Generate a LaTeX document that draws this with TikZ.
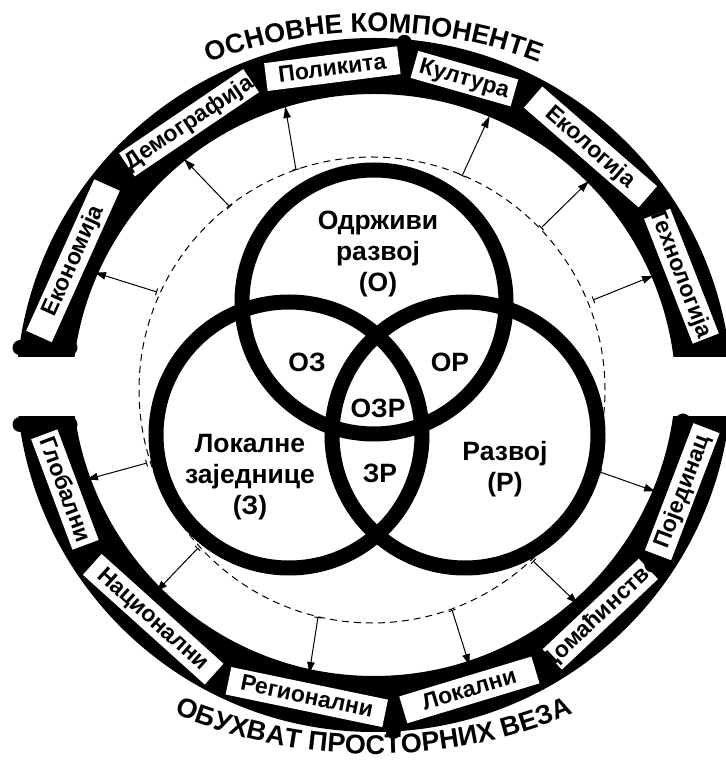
\documentclass[tikz,border=0pt]{standalone}
\usepackage{fontspec}
\setmainfont{Liberation Sans}
\usetikzlibrary{calc,arrows.meta,decorations.text}
\newcommand\boxfont{\fontsize{23pt}{24pt}\selectfont\bfseries}
\newcommand\vennfont{\fontsize{26.5pt}{31pt}\selectfont\bfseries}
\newcommand\ttlfont{\fontsize{27pt}{27pt}\selectfont\bfseries}
\begin{document}
\begin{tikzpicture}[x=1pt,y=1pt,
  wbox/.style={rectangle, fill=white, inner sep=0pt, minimum height=28pt},
  lbl/.style={inner sep=0pt, font=\boxfont, text height=13.5pt, text depth=0pt},
  venn/.style={circle, draw=black, line width=15pt, inner sep=0pt},
  vlbl/.style={font=\vennfont, align=center, inner sep=0pt},
  arr/.style={line width=1pt, {Bar[width=7pt]}-{Latex[length=13pt,width=8pt]}},
  dsh/.style={line width=1pt, dash pattern=on 7pt off 5pt},
]
\useasboundingbox (0,0) rectangle (726,769);
\fill[white] (0,0) rectangle (726,769);
\coordinate (C1) at (374,373);
\coordinate (C2) at (374,395);
\coordinate (T1) at (374,272);
\coordinate (T2) at (374,530);
\coordinate (D) at (372,379);

% dashed circle
\draw[dsh] (D) circle (233pt);

% arrows
\coordinate (a1s) at (157,477); \coordinate (a1e) at (93,497);
\coordinate (a2s) at (230,562); \coordinate (a2e) at (183,611);
\coordinate (a3s) at (296,599); \coordinate (a3e) at (285,664);
\coordinate (a4s) at (462,593); \coordinate (a4e) at (490,654);
\coordinate (a5s) at (541,541); \coordinate (a5e) at (590,589);
\coordinate (a6s) at (593,469); \coordinate (a6e) at (655,494);
\coordinate (a7s) at (147,306); \coordinate (a7e) at (85,289);
\coordinate (a8s) at (198,221); \coordinate (a8e) at (155,176);
\coordinate (a9s) at (318,152); \coordinate (a9e) at (309,94);
\coordinate (a10s) at (452,159); \coordinate (a10e) at (470,102);
\coordinate (a11s) at (533,208); \coordinate (a11e) at (579,164);
\coordinate (a12s) at (600,297); \coordinate (a12e) at (657,277);
\foreach \i in {1,...,12} {\draw[arr] (a\i s) -- (a\i e);}

% upper band
\begin{scope}
  \clip (0,412) rectangle (740,769);
  \fill[even odd rule] (C1) circle (358pt) (C1) circle (302pt);
\end{scope}
\draw[line width=15pt, line cap=round] (20,421) -- (70,421);
\draw[line width=12pt, line cap=round] (681,418) -- (745,418);
\fill ($(C1)+(85.1:355pt)$) circle (7.5pt);

% lower band
\begin{scope}
  \clip (0,0) rectangle (740,352);
  \fill[even odd rule] (C2) circle (358pt) (C2) circle (302pt);
\end{scope}
\draw[line width=15pt, line cap=round] (20,344.5) -- (70,344.5);
\fill (683,348) circle (7.5pt);
\draw[line width=6pt] (683,347) -- (745,347);
\fill ($(C2)+(273.1:358pt)$) circle (7.5pt);

% upper boxes
\node[wbox, minimum width=166pt, rotate=65.8] (bEk) at ($(C1)+(155.8:330pt)$) {};
\node[lbl, rotate=65.8] (tEk) at (bEk) {Економија};
\node[wbox, minimum width=150pt, rotate=34.1] (bDe) at ($(C1)+(124.1:330pt)$) {};
\node[lbl, rotate=34.1] (tDe) at (bDe) {Демографија};
\node[wbox, minimum width=134pt, rotate=7.25] (bPo) at ($(C1)+(97.25:330pt)$) {};
\node[lbl, rotate=7.25] (tPo) at (bPo) {Поликита};
\node[wbox, minimum width=104pt, rotate=-15.9] (bKu) at ($(C1)+(74.1:330pt)$) {};
\node[lbl, rotate=-15.9] (tKu) at (bKu) {Култура};
\node[wbox, minimum width=152pt, rotate=-41] (bEl) at ($(C1)+(49:330pt)$) {};
\node[lbl, rotate=-41] (tEl) at (bEl) {Екологија};
\node[wbox, minimum width=134pt, rotate=-68.7] (bTe) at ($(C1)+(21.3:330pt)$) {};
\node[lbl, rotate=-68.7] (tTe) at ($(bTe)+(-0.5,3)$) {Технологија};

% lower boxes
\node[wbox, minimum width=118pt, rotate=-69.5] (bGl) at ($(C2)+(200.5:330pt)$) {};
\node[lbl, rotate=-69.5] (tGl) at (bGl) {Глобални};
\node[wbox, minimum width=164pt, rotate=-42] (bNa) at ($(C2)+(228:330pt)$) {};
\node[lbl, rotate=-42] (tNa) at (bNa) {Национални};
\node[wbox, minimum width=160pt, rotate=-11.75] (bRe) at ($(C2)+(258.25:330pt)$) {};
\node[lbl, rotate=-11.75] (tRe) at (bRe) {Регионални};
\node[wbox, minimum width=138pt, rotate=16.8] (bLo) at ($(C2)+(286.8:330pt)$) {};
\node[lbl, rotate=16.8] (tLo) at (bLo) {Локални};
\node[wbox, minimum width=132pt, rotate=43.3] (bDo) at ($(C2)+(313.3:330pt)$) {};
\node[lbl, rotate=43.3] (tDo) at (bDo) {Домаћинство};
\node[wbox, minimum width=136pt, rotate=69.1] (bPj) at ($(C2)+(339.1:330pt)$) {};
\node[lbl, rotate=69.1] (tPj) at (bPj) {Појединац};

% Venn circles
\node[venn, minimum size=264pt] (O) at (374,467) {};
\node[venn, minimum size=266pt] (Z) at (289,334) {};
\node[venn, minimum size=266pt] (P) at (465,334) {};

% Venn labels
\node[vlbl] (lO) at (378,515) {Одрживи\\развој\\(О)};
\node[vlbl] (lOZ) at (307,407) {ОЗ};
\node[vlbl] (lOP) at (450,407) {ОР};
\node[vlbl] (lOZP) at (378,361) {ОЗР};
\node[vlbl] (lZP) at (380,296) {ЗР};
\node[vlbl] (lZ) at (250,292) {Локалне\\заједнице\\(З)};
\node[vlbl] (lP) at (505,300) {Развој\\(Р)};

% titles
\path[decorate, decoration={text along path, text align=center,
  text={|\ttlfont|ОСНОВНЕ КОМПОНЕНТЕ}}]
  ($(T1)+(125:465pt)$) arc[start angle=125, end angle=55, radius=465pt];
\path[decorate, decoration={text along path, text align=center,
  text={|\ttlfont|ОБУХВАТ ПРОСТОРНИХ ВЕЗА}}]
  ($(T2)+(240:515pt)$) arc[start angle=240, end angle=300, radius=515pt];
\end{tikzpicture}
\end{document}
